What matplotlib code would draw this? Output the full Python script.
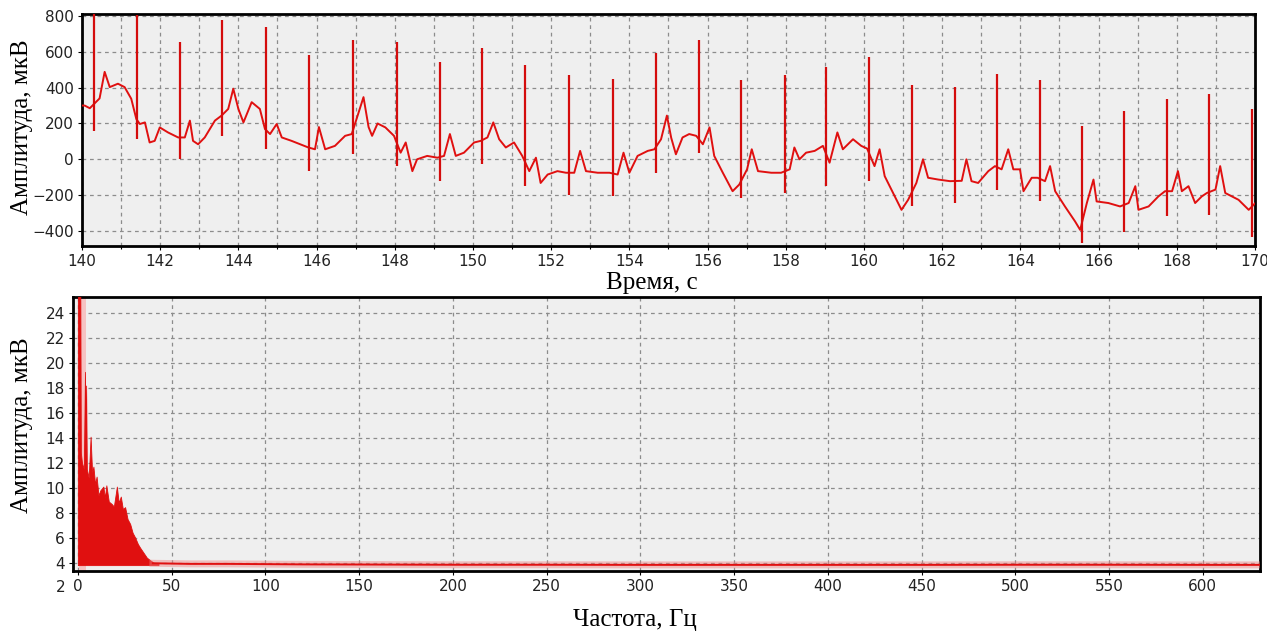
import numpy as np
import matplotlib.pyplot as plt
import matplotlib.transforms as mtransforms
from matplotlib.ticker import MultipleLocator

# --- top panel: ECG record, baseline (with P/T waves) ---
base_t = [140.00, 140.07, 140.20, 140.45, 140.58, 140.71, 140.92, 141.09, 141.26, 141.39,
          141.48, 141.61, 141.73, 141.86, 141.99, 142.20, 142.46, 142.63, 142.76, 142.84,
          142.97, 143.14, 143.40, 143.57, 143.74, 143.87, 144.00, 144.13, 144.34, 144.55,
          144.68, 144.81, 144.98, 145.11, 145.36, 145.79, 145.96, 146.06, 146.22, 146.47,
          146.73, 146.90, 147.20, 147.33, 147.42, 147.56, 147.76, 147.98, 148.15, 148.28,
          148.45, 148.57, 148.83, 149.09, 149.26, 149.41, 149.56, 149.77, 150.03, 150.20,
          150.37, 150.52, 150.67, 150.84, 151.05, 151.26, 151.44, 151.61, 151.73, 151.91,
          152.16, 152.38, 152.59, 152.74, 152.89, 153.19, 153.49, 153.70, 153.85, 154.00,
          154.21, 154.47, 154.64, 154.81, 154.96, 155.07, 155.19, 155.36, 155.53, 155.71,
          155.88, 156.05, 156.17, 156.39, 156.64, 156.81, 157.01, 157.13, 157.29, 157.63,
          157.88, 158.10, 158.22, 158.35, 158.52, 158.74, 158.95, 159.12, 159.32, 159.46,
          159.72, 159.93, 160.08, 160.27, 160.40, 160.53, 160.79, 160.96, 161.13, 161.34,
          161.51, 161.64, 161.90, 162.20, 162.50, 162.62, 162.75, 162.92, 163.18, 163.35,
          163.52, 163.69, 163.82, 163.99, 164.08, 164.29, 164.44, 164.63, 164.76, 164.89,
          165.14, 165.40, 165.53, 165.70, 165.87, 165.95, 166.25, 166.55, 166.77, 166.94,
          167.02, 167.28, 167.53, 167.70, 167.88, 168.03, 168.13, 168.30, 168.47, 168.64,
          168.77, 168.99, 169.11, 169.24, 169.58, 169.84, 170.01]
base_v = [300, 300, 285, 340, 488, 403, 422, 403, 338, 225,
          197, 206, 94, 103, 178, 150, 122, 122, 216, 103,
          84, 122, 216, 244, 281, 394, 281, 206, 319, 281,
          169, 141, 197, 122, 103, 66, 56, 180, 56, 75,
          131, 141, 347, 180, 131, 200, 178, 131, 37, 94,
          -66, 0, 19, 9, 19, 141, 19, 37, 94, 103,
          122, 206, 112, 66, 94, 19, -66, 9, -132, -85,
          -66, -75, -75, 47, -66, -75, -75, -85, 37, -75,
          19, 47, 56, 112, 244, 120, 28, 122, 141, 131,
          84, 178, 19, -75, -178, -141, -56, 56, -66, -75,
          -75, -56, 66, 0, 37, 47, 75, -19, 150, 56,
          112, 75, 60, -38, 56, -94, -207, -282, -226, -132,
          0, -103, -113, -122, -120, 0, -122, -132, -66, -38,
          -56, 56, -56, -56, -178, -103, -103, -122, -38, -178,
          -263, -347, -394, -244, -113, -235, -244, -263, -244, -150,
          -282, -263, -207, -178, -178, -66, -178, -150, -244, -207,
          -188, -169, -38, -188, -226, -282, -244]

# R-peaks: time, top and bottom of each spike
r_t = [140.32, 141.41, 142.50, 143.59, 144.70, 145.81, 146.92, 148.05, 149.15, 150.24,
       151.33, 152.46, 153.57, 154.68, 155.77, 156.86, 157.97, 159.02, 160.12, 161.23,
       162.33, 163.41, 164.49, 165.57, 166.65, 167.75, 168.83, 169.93]
r_top = [880, 807, 657, 779, 736, 582, 666, 657, 544, 619,
         525, 469, 450, 591, 666, 441, 469, 516, 572, 413,
         403, 478, 441, 188, 272, 338, 366, 281]
r_bot = [159, 112, 0, 131, 56, -66, 28, -38, -122, -28,
         -150, -197, -206, -75, 37, -216, -188, -150, -122, -263,
         -244, -169, -235, -469, -404, -319, -310, -432]

# --- bottom panel: amplitude spectrum ---
spec_f = [0.0, 0.1, 1.2, 1.6, 2.2, 3.2, 3.8, 4.1, 4.4, 4.8, 5.8, 6.8, 7.6, 8.3, 9.2,
          10.0, 11.0, 12.0, 13.6, 14.4, 15.2, 16.5, 18.1, 19.2, 20.8, 21.8, 22.9, 24.0,
          25.2, 26.5, 27.9, 29.2, 30.6, 32.0, 33.2, 35.0, 36.8, 38.5, 40.4, 43.0]
spec_a = [30, 30, 30, 12.8, 12.0, 11.5, 19.3, 12.5, 18.2, 11.5, 10.8, 14.1, 11.2, 11.7, 10.3,
          10.9, 9.4, 9.8, 10.1, 9.2, 10.2, 8.9, 8.7, 8.5, 10.1, 8.8, 9.3, 8.3,
          8.45, 7.5, 7.1, 6.4, 6.0, 5.5, 5.2, 4.8, 4.4, 4.2, 4.0, 3.95]
spec_floor = 3.8
flat_f = [40, 60, 80, 100, 120, 150, 200, 250, 300, 350, 400, 450, 500, 550, 600, 632]
flat_a = [3.95, 3.9, 3.9, 3.88, 3.86, 3.85, 3.83, 3.83, 3.82, 3.82, 3.82, 3.82, 3.83, 3.83, 3.82, 3.82]
halo_f = (0.6, 4.2)  # pale band next to the 0 Hz component

red = '#e01010'
serif = ['Liberation Serif', 'DejaVu Serif']
plt.rcParams['font.family'] = ['DejaVu Sans']

fig = plt.figure(figsize=(12.67, 6.31), dpi=100)
ax1 = fig.add_axes([0.0647, 0.6101, 0.9258, 0.3677])
ax2 = fig.add_axes([0.0576, 0.0951, 0.9369, 0.4342])

for ax in (ax1, ax2):
    ax.set_facecolor('#efefef')
    for s in ax.spines.values():
        s.set_linewidth(2)
        s.set_color('black')
    ax.grid(True, which='both', linestyle=(0, (3, 3)), color='#8c8c8c', linewidth=0.9)
    ax.set_axisbelow(True)
    ax.tick_params(which='both', length=3, width=0.8, labelsize=11, labelcolor='#222222', pad=3)
    ax.tick_params(which='minor', length=2)

# top
ax1.plot(base_t, base_v, color=red, lw=1.4, zorder=3)
ax1.vlines(r_t, r_bot, r_top, color='#d40c0c', lw=1.6, zorder=3)
ax1.set_xlim(140, 170)
ax1.set_ylim(-484, 811)
ax1.xaxis.set_major_locator(MultipleLocator(2))
ax1.xaxis.set_minor_locator(MultipleLocator(1))
ax1.yaxis.set_major_locator(MultipleLocator(200))
ax1.set_xlabel('Время, с', family=serif, fontsize=18, va='center')
ax1.xaxis.set_label_coords(0.486, -0.16)
ax1.set_ylabel('Амплитуда, мкВ', family=serif, fontsize=18, va='center')
ax1.yaxis.set_label_coords(-0.051, 0.513)

# bottom
ax2.axvspan(halo_f[0], halo_f[1], color='#f6c2c2', lw=0, zorder=2)
ax2.fill_between(spec_f, spec_floor, spec_a, color=red, lw=0.6, zorder=3)
ax2.plot(flat_f, flat_a, color='#f08080', lw=5, alpha=0.45, zorder=3)
ax2.plot(flat_f, flat_a, color=red, lw=1.4, zorder=4)
ax2.set_xlim(-2.6, 630.5)
ax2.set_ylim(3.33, 25.3)
ax2.xaxis.set_major_locator(MultipleLocator(50))
ax2.yaxis.set_major_locator(MultipleLocator(2))
ax2.set_xlabel('Частота, Гц', family=serif, fontsize=18, va='center')
ax2.xaxis.set_label_coords(0.4735, -0.179)
ax2.set_ylabel('Амплитуда, мкВ', family=serif, fontsize=18, va='center')
ax2.yaxis.set_label_coords(-0.043, 0.533)
# the "2" tick label that sits just below the frame
trans = mtransforms.blended_transform_factory(ax2.transAxes, ax2.transData)
ax2.text(-0.006, 2, '2', transform=trans, ha='right', va='center', fontsize=11,
         color='#222222', clip_on=False)

fig.savefig('out.png', dpi=100)
